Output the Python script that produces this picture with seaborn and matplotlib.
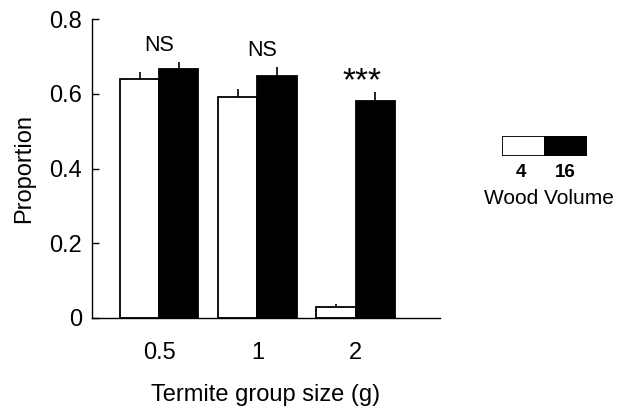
import pandas as pd
import seaborn as sns
import matplotlib.pyplot as plt
from matplotlib.patches import Rectangle

# values
group_sizes = ['0.5', '1', '2']
volumes = ['4', '16']
prop_4 = [0.639, 0.590, 0.029]
prop_16 = [0.666, 0.648, 0.581]
err_4 = [0.018, 0.022, 0.008]
err_16 = [0.018, 0.023, 0.023]
signif = ['NS', 'NS', '***']

df = pd.DataFrame({
    'size': group_sizes * 2,
    'volume': [volumes[0]] * 3 + [volumes[1]] * 3,
    'prop': prop_4 + prop_16,
})
errs = {volumes[0]: err_4, volumes[1]: err_16}

sns.set_style('ticks')
plt.rcParams['font.family'] = ['Liberation Sans', 'DejaVu Sans']
plt.rcParams['text.color'] = 'black'
plt.rcParams['axes.labelcolor'] = 'black'
plt.rcParams['xtick.color'] = 'black'
plt.rcParams['ytick.color'] = 'black'

fig = plt.figure(figsize=(6.18, 4.12), dpi=100)
ax = fig.add_axes([92 / 618, 1 - 318 / 412, 348 / 618, 299 / 412])

sns.barplot(data=df, x='size', y='prop', hue='volume', order=group_sizes,
            hue_order=volumes, palette=['white', 'black'], edgecolor='black',
            linewidth=1.3, errorbar=None, legend=False, ax=ax)

# one-sided error bars on top of each bar
tops = [0, 0, 0]
for vol, cont in zip(volumes, ax.containers):
    for i, bar in enumerate(cont):
        xc = bar.get_x() + bar.get_width() / 2
        h = bar.get_height()
        e = errs[vol][i]
        ax.errorbar(xc, h, yerr=[[0], [e]], color='black', lw=1.2, capsize=0)
        tops[i] = max(tops[i], h + e)

for i, s in enumerate(signif):
    if s == '***':
        ax.text(i + 0.07, tops[i] + 0.027, s, ha='center', va='center', fontsize=24)
    else:
        ax.text(i + 0.05 * i, tops[i] + 0.046, s, ha='center', va='center', fontsize=15.5)

ax.set_ylim(0, 0.8)
ax.set_xlim(-0.684, 2.86)
ax.set_yticks([0, 0.2, 0.4, 0.6, 0.8])
ax.set_yticklabels(['0', '0.2', '0.4', '0.6', '0.8'])
ax.tick_params(axis='y', direction='in', length=5, width=1, pad=7, labelsize=17)
ax.tick_params(axis='x', length=0, pad=17, labelsize=17)
ax.set_xlabel('Termite group size (g)', fontsize=17, labelpad=15)
ax.set_ylabel('Proportion', fontsize=17, labelpad=10)
sns.despine(ax=ax)
for sp in ['left', 'bottom']:
    ax.spines[sp].set_linewidth(1)
    ax.spines[sp].set_color('black')

# legend drawn by hand
lax = fig.add_axes([502 / 618, 1 - 156 / 412, 85 / 618, 20 / 412])
lax.set_xlim(0, 2)
lax.set_ylim(0, 1)
lax.axis('off')
lax.add_patch(Rectangle((0, 0), 1, 1, facecolor='white', edgecolor='black', lw=1.3))
lax.add_patch(Rectangle((1, 0), 1, 1, facecolor='black', edgecolor='black', lw=1.3))
fig.text(521 / 618, 1 - 172 / 412, volumes[0], ha='center', va='center',
         fontsize=13.5, fontweight='bold')
fig.text(565 / 618, 1 - 172 / 412, volumes[1], ha='center', va='center',
         fontsize=13.5, fontweight='bold')
fig.text(549 / 618, 1 - 198 / 412, 'Wood Volume', ha='center', va='center', fontsize=15)

fig.savefig('out.png', dpi=100)
